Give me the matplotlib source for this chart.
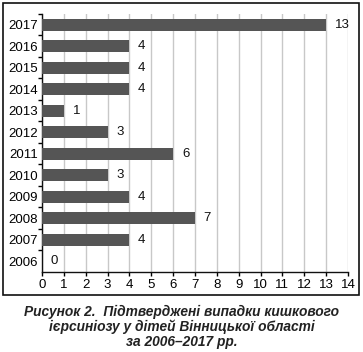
import matplotlib
matplotlib.use('Agg')
import matplotlib.pyplot as plt
from matplotlib.patches import Rectangle

years = ['2006', '2007', '2008', '2009', '2010', '2011',
         '2012', '2013', '2014', '2015', '2016', '2017']
cases = [0, 4, 7, 4, 3, 6, 3, 1, 4, 4, 4, 13]
xticks = list(range(0, 15))
caption = ('Рисунок 2.  Підтверджені випадки кишкового\n'
           'ієрсиніозу у дітей Вінницької області\n'
           'за 2006–2017 рр.')

plt.rcParams['font.family'] = ['Liberation Sans', 'DejaVu Sans']

fig = plt.figure(figsize=(3.63, 3.52), dpi=100)
ax = fig.add_axes([0.1157, 0.2273, 0.843, 0.733])

pos = list(range(len(years)))
ax.barh(pos, cases, height=0.56, color='#555555', zorder=3)
for p, v in zip(pos, cases):
    ax.text(v + 0.4, p, str(v), va='center', ha='left', fontsize=9.5,
            color='#111111', zorder=4)

ax.set_xlim(0, 14)
ax.set_ylim(-0.5, len(years) - 0.5)
ax.set_xticks(xticks)
ax.set_xticklabels([str(t) for t in xticks], fontsize=9.5)
ax.set_yticks(pos)
ax.set_yticklabels(years, fontsize=9.5)
ax.tick_params(axis='y', length=0, pad=3)
ax.set_yticks([p + 0.5 for p in pos], minor=True)
ax.tick_params(axis='y', which='minor', length=3, width=1.0, direction='out')
ax.tick_params(axis='x', length=3, width=1.0, direction='out', pad=2)

ax.xaxis.grid(True, color='#c8c8c8', linewidth=1.0, zorder=0)
ax.set_axisbelow(True)
for s in ['top', 'right']:
    ax.spines[s].set_visible(False)
for s in ['left', 'bottom']:
    ax.spines[s].set_linewidth(1.0)
    ax.spines[s].set_color('#111111')

# outer frame
fig.patches.append(Rectangle((3 / 363, 1 - 295 / 352), 356 / 363, 292 / 352,
                             transform=fig.transFigure, fill=False,
                             edgecolor='#111111', linewidth=1.2))

fig.text(0.5, 1 - 327 / 352, caption, ha='center', va='center',
         fontsize=9.9, fontweight='bold', fontstyle='italic',
         linespacing=1.1, color='#222222')

fig.savefig('out.png', dpi=100)
